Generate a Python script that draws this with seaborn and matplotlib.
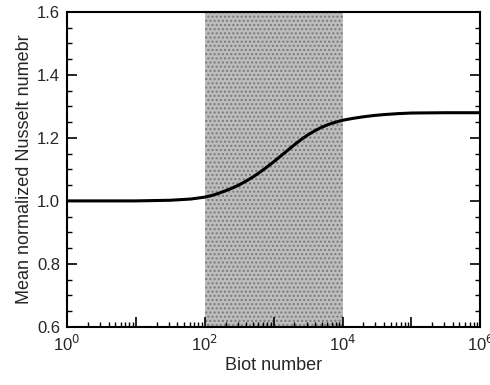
import numpy as np
import pandas as pd
import seaborn as sns
import matplotlib
matplotlib.use("Agg")
import matplotlib.pyplot as plt
from matplotlib.ticker import LogLocator, FixedLocator, FuncFormatter, MultipleLocator

# data
log_biot = [0, 1, 1.5, 1.8, 2.0, 2.1, 2.2, 2.3, 2.4, 2.5, 2.6, 2.7, 2.8, 2.9, 3.0, 3.1, 3.2, 3.3,
            3.4, 3.5, 3.6, 3.7, 3.8, 3.9, 4.0, 4.15, 4.3, 4.45, 4.6, 4.8, 5.0, 5.5, 6.0]
nusselt = [1.0, 1.0, 1.002, 1.006, 1.012, 1.017, 1.024, 1.032, 1.041, 1.051, 1.063, 1.076, 1.091,
           1.107, 1.124, 1.142, 1.16, 1.178, 1.195, 1.21, 1.223, 1.234, 1.243, 1.25, 1.256, 1.262,
           1.267, 1.271, 1.274, 1.277, 1.279, 1.28, 1.28]
shade_range = [1e2, 1e4]
x_tick_labels = ["10$^0$", "10$^2$", "10$^4$", "10$^6$"]
y_ticks = [0.6, 0.8, 1.0, 1.2, 1.4, 1.6]

df = pd.DataFrame({"Biot": [10 ** v for v in log_biot], "Nu": nusselt})

sns.set_theme(style="ticks")
plt.rcParams['font.family'] = ['Liberation Sans', 'DejaVu Sans']

fig = plt.figure(figsize=(4.9, 3.85), dpi=100)
ax = fig.add_axes([0.137, 0.151, 0.843, 0.818])

ax.axvspan(shade_range[0], shade_range[1], facecolor="#bdbdbd", edgecolor="#7a7a7a",
           hatch="....", linewidth=0, zorder=0)
sns.lineplot(data=df, x="Biot", y="Nu", ax=ax, color="black", linewidth=2.2, zorder=3)

ax.set_xscale("log")
ax.set_xlim(1, 1e6)
ax.set_ylim(0.6, 1.6)

ax.xaxis.set_major_locator(FixedLocator([1, 10, 100, 1e3, 1e4, 1e5, 1e6]))
lab_map = {1: x_tick_labels[0], 100: x_tick_labels[1], 10000: x_tick_labels[2], 1000000: x_tick_labels[3]}
ax.xaxis.set_major_formatter(FuncFormatter(lambda v, p: lab_map.get(int(round(v)), "")))
ax.xaxis.set_minor_locator(LogLocator(base=10, subs=np.arange(2, 10), numticks=20))
ax.yaxis.set_major_locator(FixedLocator(y_ticks))
ax.yaxis.set_minor_locator(MultipleLocator(0.05))
ax.yaxis.set_major_formatter(FuncFormatter(lambda v, p: f"{v:.1f}"))

ax.tick_params(which="both", direction="in", top=False, right=True, color="black")
ax.tick_params(which="major", length=7, width=1.2, labelsize=12, pad=5)
ax.tick_params(which="minor", length=3.5, width=1.0)
for s in ax.spines.values():
    s.set_linewidth(1.5)
    s.set_color("black")
    s.set_visible(True)

ax.set_xlabel("Biot number", fontsize=13, labelpad=2)
ax.set_ylabel("Mean normalized Nusselt numebr", fontsize=13, labelpad=3)

fig.savefig("out.png", dpi=100)
